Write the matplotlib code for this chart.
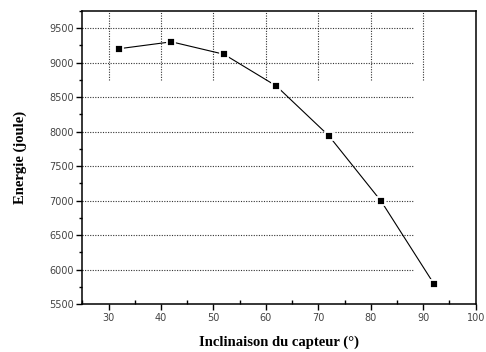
import matplotlib.pyplot as plt
from matplotlib.ticker import MultipleLocator

# inclinaison du capteur (deg) et energie recue (J)
inclinaison = [32, 42, 52, 62, 72, 82, 92]
energie = [9200, 9300, 9120, 8660, 7940, 6990, 5800]

x_ticks = [30, 40, 50, 60, 70, 80, 90, 100]
y_ticks = [5500, 6000, 6500, 7000, 7500, 8000, 8500, 9000, 9500]

fig = plt.figure(figsize=(4.86, 3.52), dpi=100)
ax = fig.add_axes([0.1693, 0.1355, 0.8095, 0.834])

dot = (0, (1, 1.3))
# grille partielle, comme sur le trace d'origine
for y in y_ticks[1:]:
    ax.plot([25, 88], [y, y], color='#333333', lw=0.8, ls=dot, zorder=1)
for x in x_ticks[:-1]:
    ax.plot([x, x], [8750, 9750], color='#333333', lw=0.8, ls=dot, zorder=1)

ax.plot(inclinaison, energie, color='black', lw=0.8, zorder=2)
ax.plot(inclinaison, energie, ls='none', marker='s', ms=5.2,
        mfc='black', mec='white', mew=1.3, zorder=3)

ax.set_xlim(25, 100)
ax.set_ylim(5500, 9750)
ax.set_xticks(x_ticks)
ax.set_yticks(y_ticks)
ax.xaxis.set_minor_locator(MultipleLocator(5))
ax.yaxis.set_minor_locator(MultipleLocator(250))

ax.tick_params(which='major', direction='out', length=4, width=1,
               labelsize=7, labelcolor='#444444', pad=2)
ax.tick_params(axis='x', which='minor', direction='in', length=3, width=1)
ax.tick_params(axis='y', which='minor', direction='out', length=2.5, width=1)
ax.tick_params(top=False, right=False)
for s in ax.spines.values():
    s.set_linewidth(1.1)

ax.set_xlabel('Inclinaison du capteur (°)', family='Liberation Serif',
              fontweight='bold', fontsize=10.5, labelpad=9)
ax.set_ylabel('Energie (joule)', family='Liberation Serif',
              fontweight='bold', fontsize=10.5, labelpad=16)

fig.savefig('out.png', dpi=100)
